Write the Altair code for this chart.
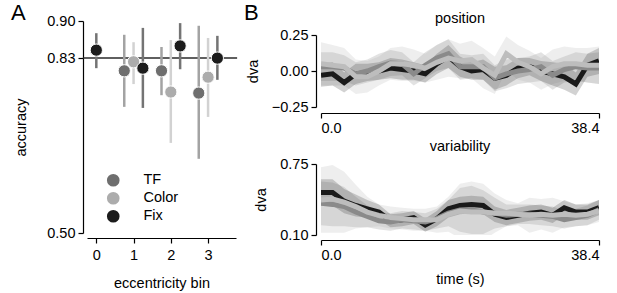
import altair as alt
import pandas as pd

FONT = "Liberation Sans"
FS = 14.5

# ---------------- data: panel A ----------------
series = ["TF", "Color", "Fix"]
dot_colors = ["#6e6e6e", "#acacac", "#1c1c1c"]
bar_colors = ["#a3a3a3", "#d2d2d2", "#747474"]

tf_x = [0.75, 1.75, 2.75]
tf_acc = [0.806, 0.806, 0.764]
tf_lo = [0.738, 0.760, 0.640]
tf_hi = [0.874, 0.851, 0.891]

color_x = [1.0, 2.0, 3.0]
color_acc = [0.823, 0.766, 0.794]
color_lo = [0.781, 0.670, 0.719]
color_hi = [0.860, 0.864, 0.868]

fix_x = [0.0, 1.25, 2.25, 3.25]
fix_acc = [0.845, 0.811, 0.853, 0.830]
fix_lo = [0.811, 0.736, 0.809, 0.789]
fix_hi = [0.877, 0.887, 0.896, 0.872]

bin_ticks = [0, 1, 2, 3]
acc_ticks = [0.50, 0.83, 0.90]
ref_acc = 0.83

# ---------------- data: panel B ----------------
time_s = [0.0, 1.6, 3.2, 4.8, 6.4, 8.0, 9.6, 11.2, 12.8, 14.4, 16.0, 17.6, 19.2,
          20.8, 22.4, 24.0, 25.6, 27.2, 28.8, 30.4, 32.0, 33.6, 35.2, 36.8, 38.4]

pos_fix = [-0.03, -0.02, -0.08, -0.02, -0.01, 0.00, 0.02, 0.01, 0.00, -0.02, 0.05, 0.10, 0.03,
           0.00, 0.01, -0.05, -0.03, 0.02, 0.03, 0.00, -0.02, -0.04, -0.09, 0.04, 0.07]
pos_tf = [0.03, 0.03, 0.02, -0.02, 0.00, 0.03, 0.055, 0.05, -0.02, 0.04, 0.09, 0.12, 0.03,
          0.03, 0.03, -0.05, -0.02, 0.00, 0.01, 0.03, -0.03, 0.01, 0.03, 0.02, 0.02]
pos_color = [0.05, 0.04, 0.03, -0.04, -0.04, 0.00, 0.05, 0.05, 0.04, 0.02, 0.06, 0.09, 0.07,
             0.08, 0.02, -0.03, 0.12, 0.06, 0.03, -0.02, 0.03, 0.05, 0.05, 0.04, 0.04]
pos_fix_err = [0.08, 0.08, 0.07, 0.07, 0.06, 0.06, 0.07, 0.07, 0.06, 0.06, 0.07, 0.08, 0.07,
               0.06, 0.07, 0.08, 0.07, 0.07, 0.06, 0.07, 0.08, 0.09, 0.08, 0.08, 0.09]
pos_tf_err = [0.10, 0.10, 0.09, 0.08, 0.08, 0.09, 0.09, 0.08, 0.08, 0.09, 0.09, 0.10, 0.09,
              0.08, 0.09, 0.09, 0.10, 0.09, 0.09, 0.10, 0.10, 0.09, 0.10, 0.10, 0.11]
pos_color_err = [0.15, 0.14, 0.13, 0.12, 0.11, 0.10, 0.11, 0.12, 0.11, 0.10, 0.12, 0.13, 0.12,
                 0.13, 0.14, 0.13, 0.12, 0.12, 0.11, 0.11, 0.12, 0.12, 0.11, 0.12, 0.13]

var_fix = [0.49, 0.49, 0.41, 0.37, 0.34, 0.31, 0.23, 0.24, 0.26, 0.19, 0.25, 0.34, 0.37,
           0.38, 0.37, 0.29, 0.26, 0.28, 0.30, 0.31, 0.28, 0.35, 0.31, 0.31, 0.35]
var_tf = [0.39, 0.38, 0.36, 0.31, 0.27, 0.23, 0.22, 0.24, 0.23, 0.22, 0.25, 0.30, 0.33,
          0.33, 0.31, 0.30, 0.28, 0.29, 0.29, 0.28, 0.27, 0.24, 0.26, 0.28, 0.33]
var_color = [0.42, 0.43, 0.40, 0.36, 0.31, 0.28, 0.26, 0.25, 0.24, 0.24, 0.24, 0.29, 0.32,
             0.31, 0.31, 0.30, 0.30, 0.29, 0.28, 0.29, 0.28, 0.29, 0.28, 0.29, 0.32]
var_fix_err = [0.12, 0.12, 0.11, 0.10, 0.08, 0.07, 0.06, 0.06, 0.06, 0.06, 0.07, 0.08, 0.08,
               0.08, 0.08, 0.07, 0.07, 0.07, 0.07, 0.07, 0.07, 0.07, 0.07, 0.07, 0.07]
var_tf_err = [0.20, 0.20, 0.18, 0.14, 0.10, 0.08, 0.08, 0.08, 0.08, 0.08, 0.09, 0.12, 0.20,
              0.22, 0.20, 0.14, 0.10, 0.09, 0.09, 0.09, 0.09, 0.08, 0.08, 0.09, 0.09]
var_color_err = [0.30, 0.31, 0.28, 0.20, 0.14, 0.10, 0.10, 0.10, 0.10, 0.10, 0.12, 0.16, 0.25,
                 0.28, 0.26, 0.18, 0.12, 0.10, 0.16, 0.14, 0.16, 0.12, 0.10, 0.10, 0.10]

line_colors = ["#8a8a8a", "#bdbdbd", "#1a1a1a"]
band_colors = ["#c6c6c6", "#cecece", "#c0c0c0"]

# ---------------- build tables ----------------
rowsA = []
for s, xs, accs, los, his, bc in [
    ("TF", tf_x, tf_acc, tf_lo, tf_hi, bar_colors[0]),
    ("Color", color_x, color_acc, color_lo, color_hi, bar_colors[1]),
    ("Fix", fix_x, fix_acc, fix_lo, fix_hi, bar_colors[2]),
]:
    for xv, a, lo, hi in zip(xs, accs, los, his):
        rowsA.append({"series": s, "x": xv, "acc": a, "lo": lo, "hi": hi, "barcolor": bc})
dfA = pd.DataFrame(rowsA)
dfRef = pd.DataFrame({"x": [-0.36], "x2": [3.78], "acc": [ref_acc]})


def long_b(vals, errs):
    rows = []
    for s, v, e in zip(series, vals, errs):
        for t, vv, ee in zip(time_s, v, e):
            rows.append({"series": s, "t": t, "val": vv, "lo": vv - ee, "hi": vv + ee})
    return pd.DataFrame(rows)


dfPos = long_b([pos_tf, pos_color, pos_fix], [pos_tf_err, pos_color_err, pos_fix_err])
dfVar = long_b([var_tf, var_color, var_fix], [var_tf_err, var_color_err, var_fix_err])

TITLE_SHIFT = 21
LETTER_FS = 22

# ---------------- panel A ----------------
xscaleA = alt.Scale(domain=[-0.25, 3.75], nice=False, zero=False)
yscaleA = alt.Scale(domain=[0.5, 0.9], nice=False, zero=False)
xaxisA = alt.Axis(values=bin_ticks, title="eccentricity bin", offset=5, titlePadding=15, labelPadding=5)
yaxisA = alt.Axis(values=acc_ticks, format=".2f", title="accuracy", offset=4, titlePadding=18)

ref = alt.Chart(dfRef).mark_rule(color="#2a2a2a", strokeWidth=1.5, clip=False).encode(
    x=alt.X("x:Q", scale=xscaleA, axis=xaxisA),
    x2="x2:Q",
    y=alt.Y("acc:Q", scale=yscaleA, axis=yaxisA),
)
bars = alt.Chart(dfA).mark_rule(strokeWidth=2.5).encode(
    x=alt.X("x:Q", scale=xscaleA, axis=xaxisA),
    y=alt.Y("lo:Q", scale=yscaleA, axis=yaxisA),
    y2="hi:Q",
    color=alt.Color("barcolor:N", scale=None),
)
dots = alt.Chart(dfA).mark_circle(size=150, opacity=1, stroke="white", strokeWidth=1).encode(
    x=alt.X("x:Q", scale=xscaleA, axis=xaxisA),
    y=alt.Y("acc:Q", scale=yscaleA, axis=yaxisA),
    color=alt.Color(
        "series:N",
        scale=alt.Scale(domain=series, range=dot_colors),
        legend=alt.Legend(
            title=None, orient="none", legendX=19, legendY=152, padding=0,
            symbolType="circle", symbolSize=160, symbolStrokeWidth=0, symbolOpacity=1,
            labelFont=FONT, labelFontSize=FS, labelColor="black", labelOffset=23,
            rowPadding=3,
        ),
    ),
)
chartA = alt.layer(ref, bars, dots).properties(
    width=149, height=212,
    title=alt.TitleParams("A", anchor="start", frame="group", dx=-76, dy=8 + TITLE_SHIFT, offset=0,
                          baseline="alphabetic", fontSize=LETTER_FS, font=FONT,
                          fontWeight="normal", color="black"),
)


# ---------------- panel B ----------------
def panel_b(df, ydomain, yticks, title, xtitle, height, xoffset, toffset):
    xs = alt.Scale(domain=[0, 38.4], nice=False, zero=False)
    ys = alt.Scale(domain=ydomain, nice=False, zero=False)
    xa = alt.Axis(values=[0, 38.4], format=".1f", title=xtitle, offset=xoffset, titlePadding=11)
    ya = alt.Axis(values=yticks, format=".2f", title="dva", offset=5, titlePadding=11)
    band = alt.Chart(df).mark_area(opacity=0.2, clip=True).encode(
        x=alt.X("t:Q", scale=xs, axis=xa),
        y=alt.Y("lo:Q", scale=ys, axis=ya),
        y2="hi:Q",
        color=alt.Color("series:N", scale=alt.Scale(domain=series, range=band_colors), legend=None),
    )
    layers = [band]
    for s in ["Fix", "TF", "Color"]:
        c = line_colors[series.index(s)]
        layers.append(
            alt.Chart(df).transform_filter(alt.datum.series == s).mark_line(
                color=c, strokeWidth=5, clip=True
            ).encode(
                x=alt.X("t:Q", scale=xs, axis=xa),
                y=alt.Y("val:Q", scale=ys, axis=ya),
            )
        )
    return alt.layer(*layers).properties(
        width=278, height=height,
        title=alt.TitleParams(title, anchor="middle", frame="group", offset=toffset,
                              dy=TITLE_SHIFT,
                              baseline="alphabetic", fontSize=FS, font=FONT,
                              fontWeight="normal", color="black"),
    )


chartB1 = panel_b(dfPos, [-0.25, 0.25], [-0.25, 0.0, 0.25], "position", None, 72, 6, 11)
chartB2 = panel_b(dfVar, [0.10, 0.75], [0.10, 0.75], "variability", "time (s)", 71, 5, 12)

spacer = alt.Chart(pd.DataFrame({"v": [0]})).mark_point(opacity=0).properties(
    width=278, height=1,
    title=alt.TitleParams("B", anchor="start", frame="group", dx=-77, dy=2 + TITLE_SHIFT, offset=0,
                          baseline="alphabetic", fontSize=LETTER_FS, font=FONT,
                          fontWeight="normal", color="black"),
)

colB = alt.vconcat(spacer, alt.vconcat(chartB1, chartB2, spacing=57, bounds="flush"),
                   spacing=13, bounds="flush")

chart = alt.hconcat(chartA, colB, spacing=85, bounds="flush").properties(
    autosize=alt.AutoSizeParams(type="none"),
    padding={"left": 87, "top": 21, "right": 530, "bottom": 272},
).configure_view(stroke=None).configure_axis(
    labelFont=FONT, labelFontSize=FS, labelColor="black",
    titleFont=FONT, titleFontSize=FS, titleFontWeight="normal", titleColor="black",
    domainColor="black", tickColor="black", domainWidth=1.2, tickWidth=1.2,
    tickSize=5, grid=False, labelPadding=3,
)

chart.save("out.html", embed_options={"renderer": "svg", "actions": False})
